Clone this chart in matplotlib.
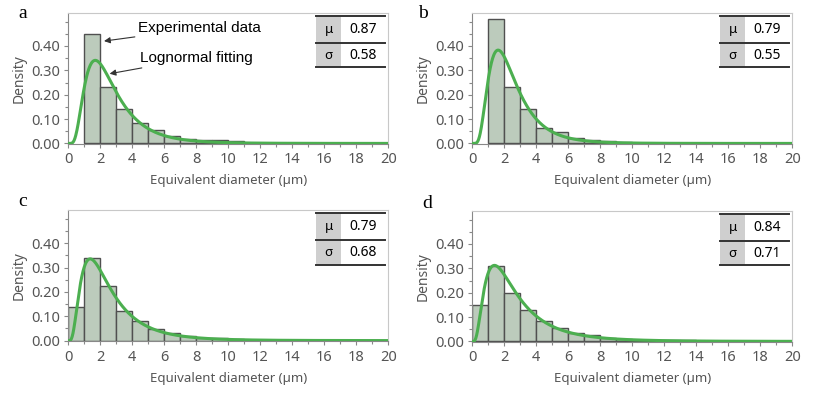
import matplotlib.pyplot as plt
import numpy as np
from matplotlib.ticker import MultipleLocator, FormatStrFormatter

plt.rcParams['font.family'] = ['Noto Sans', 'DejaVu Sans']

# bin left edges (width 1 um) and densities
edges_a = [1, 2, 3, 4, 5, 6, 7, 8, 9, 10]
dens_a = [0.45, 0.23, 0.14, 0.085, 0.055, 0.03, 0.018, 0.012, 0.012, 0.008]
edges_b = [1, 2, 3, 4, 5, 6, 7, 8, 9]
dens_b = [0.51, 0.23, 0.14, 0.063, 0.045, 0.022, 0.015, 0.008, 0.006]
edges_c = [0, 1, 2, 3, 4, 5, 6, 7, 8, 9, 10, 11, 12]
dens_c = [0.14, 0.34, 0.225, 0.12, 0.08, 0.047, 0.032, 0.017, 0.01, 0.01, 0.005, 0.004, 0.003]
edges_d = [0, 1, 2, 3, 4, 5, 6, 7, 8, 9, 10, 11, 12, 13]
dens_d = [0.15, 0.31, 0.20, 0.13, 0.085, 0.057, 0.035, 0.027, 0.015, 0.01, 0.006, 0.004, 0.004, 0.004]

# lognormal fit parameters
mu = [0.87, 0.79, 0.79, 0.84]
sigma = [0.58, 0.55, 0.68, 0.71]
panel_labels = ['a', 'b', 'c', 'd']

edges = [edges_a, edges_b, edges_c, edges_d]
dens = [dens_a, dens_b, dens_c, dens_d]

fig = plt.figure(figsize=(8.13, 3.96), dpi=100)
positions = [(0.0836, 0.636), (0.5806, 0.636), (0.0836, 0.138), (0.5806, 0.136)]
label_pos = [(0.022, 0.965), (0.514, 0.965), (0.022, 0.49), (0.519, 0.487)]

bar_color = '#bccbbc'
line_color = '#4caf50'
gray = '#555555'

x = np.linspace(0.01, 20, 800)

for i in range(4):
    ax = fig.add_axes([positions[i][0], positions[i][1], 0.394, 0.331])
    ax.bar(edges[i], dens[i], width=1, align='edge', color=bar_color,
           edgecolor='#505050', linewidth=1.0, zorder=2)
    pdf = np.exp(-(np.log(x) - mu[i]) ** 2 / (2 * sigma[i] ** 2)) / (x * sigma[i] * np.sqrt(2 * np.pi))
    ax.plot(x, pdf, color=line_color, lw=2.2, zorder=3)

    ax.set_xlim(0, 20)
    ax.set_ylim(-0.003, 0.535)
    ax.xaxis.set_major_locator(MultipleLocator(2))
    ax.xaxis.set_minor_locator(MultipleLocator(1))
    ax.set_yticks([0, 0.1, 0.2, 0.3, 0.4])
    ax.yaxis.set_minor_locator(MultipleLocator(0.05))
    ax.yaxis.set_major_formatter(FormatStrFormatter('%.2f'))
    ax.tick_params(colors='#888888', labelcolor=gray, labelsize=10.5, length=3, width=0.8, pad=3)
    ax.tick_params(which='minor', colors='#888888', length=2, width=0.8)
    for s in ax.spines.values():
        s.set_color('#c8c8c8')
        s.set_linewidth(0.8)
    ax.spines['left'].set_color('#888888')
    ax.spines['bottom'].set_color('#888888')
    ax.set_xlabel('Equivalent diameter (µm)', fontsize=9.5, color=gray, labelpad=5)
    ax.set_ylabel('Density', fontsize=10, color=gray, labelpad=3)

    # parameter table
    tx0, tg, tx1 = 0.775, 0.852, 0.99
    ty0, tym, ty1 = 0.585, 0.77, 0.98
    ax.add_patch(plt.Rectangle((tx0, ty0), tg - tx0, ty1 - ty0, transform=ax.transAxes,
                               facecolor='#cfcfcf', edgecolor='none', zorder=4))
    ax.add_patch(plt.Rectangle((tg, ty0), tx1 - tg, ty1 - ty0, transform=ax.transAxes,
                               facecolor='white', edgecolor='none', zorder=4))
    for yy in (ty0, tym, ty1):
        ax.plot([tx0, tx1], [yy, yy], transform=ax.transAxes, color='#333333', lw=1.4, zorder=5)
    ax.text((tx0 + tg) / 2, (tym + ty1) / 2, 'μ', transform=ax.transAxes, ha='center', va='center',
            fontsize=9.5, zorder=6)
    ax.text((tx0 + tg) / 2, (ty0 + tym) / 2, 'σ', transform=ax.transAxes, ha='center', va='center',
            fontsize=9.5, zorder=6)
    ax.text((tg + tx1) / 2, (tym + ty1) / 2, '%.2f' % mu[i], transform=ax.transAxes, ha='center',
            va='center', fontsize=10, zorder=6)
    ax.text((tg + tx1) / 2, (ty0 + tym) / 2, '%.2f' % sigma[i], transform=ax.transAxes, ha='center',
            va='center', fontsize=10, zorder=6)

    fig.text(label_pos[i][0], label_pos[i][1], panel_labels[i], family='Liberation Serif',
             fontsize=14, ha='left', va='center')

    if i == 0:
        ax.annotate('Experimental data', xy=(2.25, 0.42), xytext=(4.35, 0.473),
                    fontsize=11, family='Liberation Sans', va='center', ha='left',
                    arrowprops=dict(arrowstyle='-|>', color='#333333', lw=0.8, mutation_scale=9,
                                    shrinkA=0, shrinkB=0),
                    zorder=7)
        ax.annotate('Lognormal fitting', xy=(2.6, 0.286), xytext=(4.47, 0.35),
                    fontsize=11, family='Liberation Sans', va='center', ha='left',
                    arrowprops=dict(arrowstyle='-|>', color='#333333', lw=0.8, mutation_scale=9,
                                    shrinkA=0, shrinkB=0),
                    zorder=7)

plt.savefig('out.png', dpi=100)
